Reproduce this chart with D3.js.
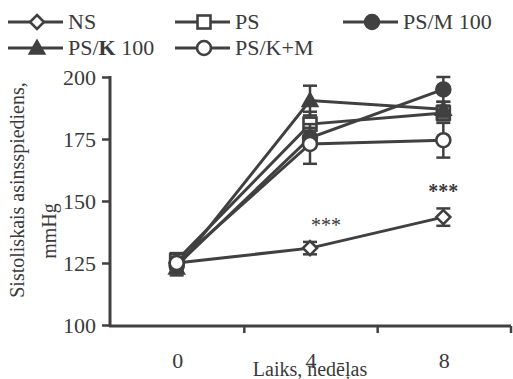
<!DOCTYPE html>
<html>
<head>
<meta charset="utf-8">
<script src="https://cdn.jsdelivr.net/npm/d3@7"></script>
<style>
  body { margin: 0; background: #fff; }
  text { font-family: "Liberation Serif", "Times New Roman", serif; fill: #3a3a3a; }
</style>
</head>
<body>
<div id="chart"></div>
<script>
var svgWidth = 513;
var svgHeight = 379;

// weeks on the x axis
var weeks = ["0", "4", "8"];
var yTicks = [100, 125, 150, 175, 200];

// mean values per group (mmHg)
var nsVals = [125, 131, 143.5];
var psVals = [126, 181, 185.5];
var psmVals = [124, 175.5, 195];
var pskVals = [123, 190.5, 187];
var pskmVals = [125, 173, 174.5];

// error bars (+/-)
var nsErr = [2.5, 2.5, 3.5];
var psErr = [3, 5, 3];
var psmErr = [2.5, 4, 5];
var pskErr = [3, 6, 3];
var pskmErr = [2.5, 8, 7];

var groupNames = ["NS", "PS", "PS/M 100", "PS/K 100", "PS/K+M"];
var stars = ["", "***", "***"];

var color = "#404040";

var svg = d3.select("#chart")
  .append("svg")
  .attr("width", svgWidth)
  .attr("height", svgHeight);

var x = d3.scaleBand()
  .domain(weeks)
  .range([111, 511])
  .paddingInner(0)
  .paddingOuter(0);

var y = d3.scaleLinear()
  .domain([100, 200])
  .range([325, 77]);

var cx = function(w) { return x(w) + x.bandwidth() / 2 - 1; };

var groups = [
  { name: groupNames[0], vals: nsVals, err: nsErr, marker: "diamond" },
  { name: groupNames[1], vals: psVals, err: psErr, marker: "square" },
  { name: groupNames[2], vals: psmVals, err: psmErr, marker: "dot" },
  { name: groupNames[3], vals: pskVals, err: pskErr, marker: "triangle" },
  { name: groupNames[4], vals: pskmVals, err: pskmErr, marker: "circle" }
];

function drawMarker(g, type, px, py) {
  if (type === "diamond") {
    g.append("path")
      .attr("d", `M${px},${py - 7} L${px + 7},${py} L${px},${py + 7} L${px - 7},${py} Z`)
      .attr("fill", "#fff").attr("stroke", color).attr("stroke-width", 2.6);
  } else if (type === "square") {
    g.append("rect")
      .attr("x", px - 6.5).attr("y", py - 6.5).attr("width", 13).attr("height", 13)
      .attr("fill", "#fff").attr("stroke", color).attr("stroke-width", 2.6);
  } else if (type === "dot") {
    g.append("circle")
      .attr("cx", px).attr("cy", py).attr("r", 7.5)
      .attr("fill", color).attr("stroke", color).attr("stroke-width", 1.5);
  } else if (type === "triangle") {
    g.append("path")
      .attr("d", `M${px},${py - 8} L${px + 8},${py + 6} L${px - 8},${py + 6} Z`)
      .attr("fill", color).attr("stroke", color).attr("stroke-width", 1.5);
  } else {
    g.append("circle")
      .attr("cx", px).attr("cy", py).attr("r", 7)
      .attr("fill", "#fff").attr("stroke", color).attr("stroke-width", 2.6);
  }
}

// y axis
var yAxis = svg.append("g")
  .attr("transform", "translate(110,0)")
  .call(d3.axisLeft(y).tickValues(yTicks).tickSize(8).tickPadding(6));
yAxis.select(".domain").attr("stroke", color).attr("stroke-width", 3)
  .attr("d", "M0,76V327");
yAxis.selectAll(".tick line").attr("stroke", color).attr("stroke-width", 2.5);
yAxis.selectAll(".tick text")
  .attr("font-size", 22).attr("fill", "#3a3a3a")
  .style("font-family", "Liberation Serif");

// x axis
var xAxis = svg.append("g")
  .attr("transform", "translate(0,326)")
  .call(d3.axisBottom(x).tickSize(0).tickPadding(26));
xAxis.select(".domain").attr("stroke", color).attr("stroke-width", 3)
  .attr("d", "M109,0H511");
xAxis.selectAll(".tick text")
  .attr("font-size", 22).attr("fill", "#3a3a3a")
  .style("font-family", "Liberation Serif");

// tick marks between categories
svg.selectAll(".xsep")
  .data(weeks)
  .enter()
  .append("line")
  .attr("x1", d => x(d) + x.bandwidth())
  .attr("x2", d => x(d) + x.bandwidth())
  .attr("y1", 326)
  .attr("y2", 333)
  .attr("stroke", color)
  .attr("stroke-width", 2.5);

// axis titles
svg.append("text")
  .attr("transform", "translate(24,190) rotate(-90)")
  .attr("text-anchor", "middle")
  .attr("font-size", 20)
  .text("Sistoliskais asinsspiediens,");

svg.append("text")
  .attr("transform", "translate(56,231) rotate(-90)")
  .attr("text-anchor", "middle")
  .attr("font-size", 20)
  .text("mmHg");

svg.append("text")
  .attr("x", 310)
  .attr("y", 376)
  .attr("text-anchor", "middle")
  .attr("font-size", 20)
  .text("Laiks, nedēļas");

// lines
var line = d3.line()
  .x((d, i) => cx(weeks[i]))
  .y(d => y(d));

groups.forEach(function(gr) {
  svg.append("path")
    .datum(gr.vals)
    .attr("d", line)
    .attr("fill", "none")
    .attr("stroke", color)
    .attr("stroke-width", 3);
});

// error bars + markers
groups.forEach(function(gr) {
  var g = svg.append("g");
  gr.vals.forEach(function(v, i) {
    var px = cx(weeks[i]);
    var top = y(v + gr.err[i]);
    var bot = y(v - gr.err[i]);
    g.append("line").attr("x1", px).attr("x2", px).attr("y1", top).attr("y2", bot)
      .attr("stroke", color).attr("stroke-width", 2.5);
    g.append("line").attr("x1", px - 7).attr("x2", px + 7).attr("y1", top).attr("y2", top)
      .attr("stroke", color).attr("stroke-width", 2.5);
    g.append("line").attr("x1", px - 7).attr("x2", px + 7).attr("y1", bot).attr("y2", bot)
      .attr("stroke", color).attr("stroke-width", 2.5);
  });
  gr.vals.forEach(function(v, i) {
    drawMarker(g, gr.marker, cx(weeks[i]), y(v));
  });
});

// significance stars above NS
stars.forEach(function(s, i) {
  if (!s) return;
  var offset = i === 1 ? 16 : 0;
  svg.append("text")
    .attr("x", cx(weeks[i]) + offset)
    .attr("y", y(nsVals[i] + nsErr[i]) - 10)
    .attr("text-anchor", "middle")
    .attr("font-size", 20)
    .attr("font-weight", i === 2 ? "bold" : "normal")
    .text(s);
});

// legend
var legendPos = [
  { lx: 8, ly: 22 }, { lx: 175, ly: 22 }, { lx: 343, ly: 22 },
  { lx: 8, ly: 48 }, { lx: 175, ly: 48 }
];

groups.forEach(function(gr, i) {
  var p = legendPos[i];
  var g = svg.append("g");
  g.append("line")
    .attr("x1", p.lx).attr("x2", p.lx + 55)
    .attr("y1", p.ly).attr("y2", p.ly)
    .attr("stroke", color).attr("stroke-width", 3);
  drawMarker(g, gr.marker, p.lx + 29, p.ly);
  var t = g.append("text")
    .attr("x", p.lx + 60)
    .attr("y", p.ly + 7)
    .attr("font-size", 22);
  if (gr.name === "PS/K 100") {
    t.append("tspan").text("PS/");
    t.append("tspan").attr("font-weight", "bold").text("K");
    t.append("tspan").text(" 100");
  } else {
    t.text(gr.name);
  }
});
</script>
</body>
</html>
